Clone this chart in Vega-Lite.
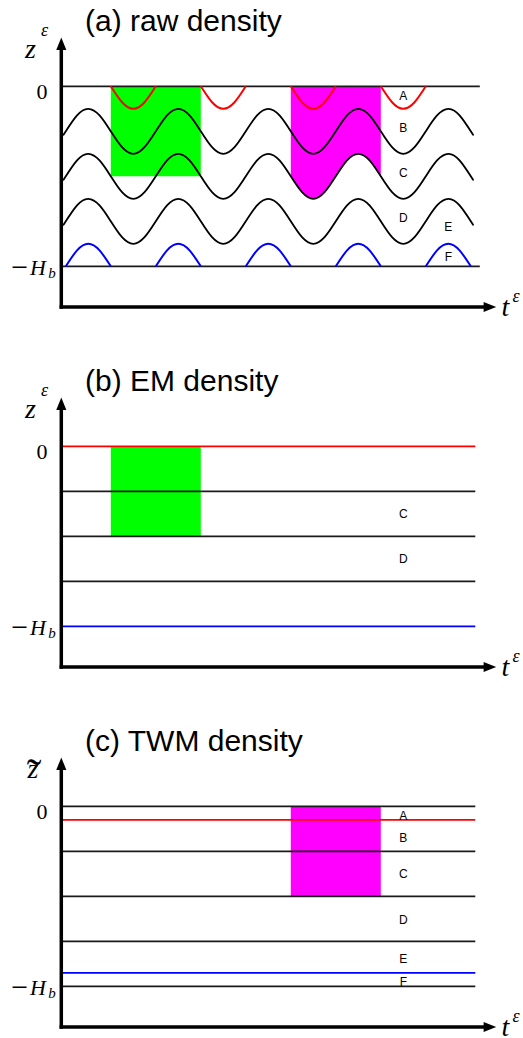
{
"$schema":"https://vega.github.io/schema/vega-lite/v6.json",
"padding":0,
"spacing":0,
"background":"white",
"config":{"view":{"stroke":null},"concat":{"spacing":0}},
"datasets":{
"rects":[
{"p":"a","k":"EM","t0":2,"t1":6,"z0":0,"z1":-2},
{"p":"b","k":"EM","t0":2,"t1":6,"z0":0,"z1":-2},
{"p":"c","k":"TWM","t0":10,"t1":14,"z0":0,"z1":-2}],
"mag":[
{"t":10,"z":-2},{"t":10.5,"z":-2.3536},{"t":11,"z":-2.5},{"t":11.5,"z":-2.3536},{"t":12,"z":-2},{"t":12.5,"z":-1.6464},{"t":13,"z":-1.5},{"t":13.5,"z":-1.6464},{"t":14,"z":-2}],
"hl":[
{"p":"a","s":"iso","t0":-0.2,"t1":18.4,"z":0},
{"p":"a","s":"iso","t0":-0.2,"t1":18.4,"z":-4},
{"p":"b","s":"A","t0":-0.2,"t1":18.2,"z":0},
{"p":"b","s":"iso","t0":-0.2,"t1":18.2,"z":-1},
{"p":"b","s":"iso","t0":-0.2,"t1":18.2,"z":-2},
{"p":"b","s":"iso","t0":-0.2,"t1":18.2,"z":-3},
{"p":"b","s":"F","t0":-0.2,"t1":18.2,"z":-4},
{"p":"c","s":"iso","t0":-0.2,"t1":18.2,"z":0},
{"p":"c","s":"A","t0":-0.2,"t1":18.2,"z":-0.3},
{"p":"c","s":"iso","t0":-0.2,"t1":18.2,"z":-1},
{"p":"c","s":"iso","t0":-0.2,"t1":18.2,"z":-2},
{"p":"c","s":"iso","t0":-0.2,"t1":18.2,"z":-3},
{"p":"c","s":"F","t0":-0.2,"t1":18.2,"z":-3.7},
{"p":"c","s":"iso","t0":-0.2,"t1":18.2,"z":-4}],
"waves":[
{"t":-0.1,"B":-1.0782,"C":-2.0782,"D":-3.0782},
{"t":0,"B":-1,"C":-2,"D":-3},
{"t":0.5,"B":-0.6464,"C":-1.6464,"D":-2.6464},
{"t":1,"B":-0.5,"C":-1.5,"D":-2.5},
{"t":1.5,"B":-0.6464,"C":-1.6464,"D":-2.6464},
{"t":2,"B":-1,"C":-2,"D":-3},
{"t":2.5,"B":-1.3536,"C":-2.3536,"D":-3.3536},
{"t":3,"B":-1.5,"C":-2.5,"D":-3.5},
{"t":3.5,"B":-1.3536,"C":-2.3536,"D":-3.3536},
{"t":4,"B":-1,"C":-2,"D":-3},
{"t":4.5,"B":-0.6464,"C":-1.6464,"D":-2.6464},
{"t":5,"B":-0.5,"C":-1.5,"D":-2.5},
{"t":5.5,"B":-0.6464,"C":-1.6464,"D":-2.6464},
{"t":6,"B":-1,"C":-2,"D":-3},
{"t":6.5,"B":-1.3536,"C":-2.3536,"D":-3.3536},
{"t":7,"B":-1.5,"C":-2.5,"D":-3.5},
{"t":7.5,"B":-1.3536,"C":-2.3536,"D":-3.3536},
{"t":8,"B":-1,"C":-2,"D":-3},
{"t":8.5,"B":-0.6464,"C":-1.6464,"D":-2.6464},
{"t":9,"B":-0.5,"C":-1.5,"D":-2.5},
{"t":9.5,"B":-0.6464,"C":-1.6464,"D":-2.6464},
{"t":10,"B":-1,"C":-2,"D":-3},
{"t":10.5,"B":-1.3536,"C":-2.3536,"D":-3.3536},
{"t":11,"B":-1.5,"C":-2.5,"D":-3.5},
{"t":11.5,"B":-1.3536,"C":-2.3536,"D":-3.3536},
{"t":12,"B":-1,"C":-2,"D":-3},
{"t":12.5,"B":-0.6464,"C":-1.6464,"D":-2.6464},
{"t":13,"B":-0.5,"C":-1.5,"D":-2.5},
{"t":13.5,"B":-0.6464,"C":-1.6464,"D":-2.6464},
{"t":14,"B":-1,"C":-2,"D":-3},
{"t":14.5,"B":-1.3536,"C":-2.3536,"D":-3.3536},
{"t":15,"B":-1.5,"C":-2.5,"D":-3.5},
{"t":15.5,"B":-1.3536,"C":-2.3536,"D":-3.3536},
{"t":16,"B":-1,"C":-2,"D":-3},
{"t":16.5,"B":-0.6464,"C":-1.6464,"D":-2.6464},
{"t":17,"B":-0.5,"C":-1.5,"D":-2.5},
{"t":17.5,"B":-0.6464,"C":-1.6464,"D":-2.6464},
{"t":18,"B":-1,"C":-2,"D":-3},
{"t":18.1,"B":-1.0782,"C":-2.0782,"D":-3.0782}],
"arcs":[
{"id":"A1","s":"A","t":2,"z":0},{"id":"A1","s":"A","t":2.5,"z":-0.3536},{"id":"A1","s":"A","t":3,"z":-0.5},{"id":"A1","s":"A","t":3.5,"z":-0.3536},{"id":"A1","s":"A","t":4,"z":0},
{"id":"A2","s":"A","t":6,"z":0},{"id":"A2","s":"A","t":6.5,"z":-0.3536},{"id":"A2","s":"A","t":7,"z":-0.5},{"id":"A2","s":"A","t":7.5,"z":-0.3536},{"id":"A2","s":"A","t":8,"z":0},
{"id":"A3","s":"A","t":10,"z":0},{"id":"A3","s":"A","t":10.5,"z":-0.3536},{"id":"A3","s":"A","t":11,"z":-0.5},{"id":"A3","s":"A","t":11.5,"z":-0.3536},{"id":"A3","s":"A","t":12,"z":0},
{"id":"A4","s":"A","t":14,"z":0},{"id":"A4","s":"A","t":14.5,"z":-0.3536},{"id":"A4","s":"A","t":15,"z":-0.5},{"id":"A4","s":"A","t":15.5,"z":-0.3536},{"id":"A4","s":"A","t":16,"z":0},
{"id":"F1","s":"F","t":0,"z":-4},{"id":"F1","s":"F","t":0.5,"z":-3.6464},{"id":"F1","s":"F","t":1,"z":-3.5},{"id":"F1","s":"F","t":1.5,"z":-3.6464},{"id":"F1","s":"F","t":2,"z":-4},
{"id":"F2","s":"F","t":4,"z":-4},{"id":"F2","s":"F","t":4.5,"z":-3.6464},{"id":"F2","s":"F","t":5,"z":-3.5},{"id":"F2","s":"F","t":5.5,"z":-3.6464},{"id":"F2","s":"F","t":6,"z":-4},
{"id":"F3","s":"F","t":8,"z":-4},{"id":"F3","s":"F","t":8.5,"z":-3.6464},{"id":"F3","s":"F","t":9,"z":-3.5},{"id":"F3","s":"F","t":9.5,"z":-3.6464},{"id":"F3","s":"F","t":10,"z":-4},
{"id":"F4","s":"F","t":12,"z":-4},{"id":"F4","s":"F","t":12.5,"z":-3.6464},{"id":"F4","s":"F","t":13,"z":-3.5},{"id":"F4","s":"F","t":13.5,"z":-3.6464},{"id":"F4","s":"F","t":14,"z":-4},
{"id":"F5","s":"F","t":16,"z":-4},{"id":"F5","s":"F","t":16.5,"z":-3.6464},{"id":"F5","s":"F","t":17,"z":-3.5},{"id":"F5","s":"F","t":17.5,"z":-3.6464},{"id":"F5","s":"F","t":18,"z":-4}],
"axes":[
{"t0":-0.2,"t1":-0.2,"z0":-4.904,"z1":0.85},
{"t0":-0.2,"t1":18.6,"z0":-4.904,"z1":-4.904}],
"heads":[
{"d":"up","t":-0.2,"z":0.946},
{"d":"right","t":18.85,"z":-4.904}],
"letters":[
{"p":"a","txt":"A","t":15,"z":-0.21},
{"p":"a","txt":"B","t":15,"z":-0.92},
{"p":"a","txt":"C","t":15,"z":-1.92},
{"p":"a","txt":"D","t":15,"z":-2.92},
{"p":"a","txt":"E","t":17,"z":-3.13},
{"p":"a","txt":"F","t":17,"z":-3.8},
{"p":"b","txt":"C","t":15,"z":-1.5},
{"p":"b","txt":"D","t":15,"z":-2.5},
{"p":"c","txt":"A","t":15,"z":-0.21},
{"p":"c","txt":"B","t":15,"z":-0.71},
{"p":"c","txt":"C","t":15,"z":-1.51},
{"p":"c","txt":"D","t":15,"z":-2.52},
{"p":"c","txt":"E","t":15,"z":-3.4},
{"p":"c","txt":"F","t":15,"z":-3.91}],
"titles":[
{"p":"a","txt":"(a) raw density","t":0.853,"z":1.229},
{"p":"b","txt":"(b) EM density","t":0.853,"z":1.229},
{"p":"c","txt":"(c) TWM density","t":0.853,"z":1.229}],
"mathI":[
{"p":"ab","txt":"z","r":"big","t":-1.813,"z":0.629},
{"p":"ab","txt":"ε","r":"sup","t":-1.1,"z":1.12},
{"p":"c","txt":"z","r":"big","t":-1.7,"z":0.629},
{"p":"all","txt":"H","r":"num","t":-1.591,"z":-4.193},
{"p":"all","txt":"b","r":"sub","t":-0.78,"z":-4.26},
{"p":"all","txt":"t","r":"big","t":19.36,"z":-5.1},
{"p":"all","txt":"ε","r":"sup","t":19.85,"z":-4.8}],
"mathR":[
{"p":"all","txt":"0","r":"num","t":-1.3,"z":-0.282},
{"p":"all","txt":"−","r":"minus","t":-2.42,"z":-4.238},
{"p":"c","txt":"˜","r":"tilde","t":-1.74,"z":0.384}]
},
"vconcat":[
{"width":523,"height":360,
"layer":[
{"data":{"name":"rects"},"transform":[{"filter":"datum.p==='a'"}],"mark":{"type":"rect"},
"encoding":{"x":{"field":"t0","type":"quantitative","scale":{"domain":[-2.9244,20.32],"nice":false,"zero":false},"axis":null},"x2":{"field":"t1"},
"y":{"field":"z0","type":"quantitative","scale":{"domain":[-6.0822,1.9178],"nice":false,"zero":false},"axis":null},"y2":{"field":"z1"},
"fill":{"field":"k","type":"nominal","scale":{"domain":["EM","TWM"],"range":["#00ff00","#ff00ff"]},"legend":null}}},
{"data":{"name":"mag"},"mark":{"type":"area","interpolate":"natural","color":"#ff00ff"},
"encoding":{"x":{"field":"t","type":"quantitative","axis":null},"y":{"field":"z","type":"quantitative","axis":null},"y2":{"datum":0}}},
{"data":{"name":"hl"},"transform":[{"filter":"datum.p==='a'"}],"mark":{"type":"rule","strokeWidth":1.8},
"encoding":{"x":{"field":"t0","type":"quantitative","axis":null},"x2":{"field":"t1"},"y":{"field":"z","type":"quantitative","axis":null},
"stroke":{"field":"s","type":"nominal","scale":{"domain":["A","F","iso"],"range":["#ff0000","#0000ff","#1a1a1a"]},"legend":null}}},
{"data":{"name":"waves"},"transform":[{"fold":["B","C","D"],"as":["id","z"]}],"mark":{"type":"line","interpolate":"natural","color":"#000000","strokeWidth":1.8},
"encoding":{"x":{"field":"t","type":"quantitative","axis":null},"y":{"field":"z","type":"quantitative","axis":null},"detail":{"field":"id","type":"nominal"}}},
{"data":{"name":"arcs"},"mark":{"type":"line","interpolate":"natural","strokeWidth":2},
"encoding":{"x":{"field":"t","type":"quantitative","axis":null},"y":{"field":"z","type":"quantitative","axis":null},"detail":{"field":"id","type":"nominal"},
"stroke":{"field":"s","type":"nominal","scale":{"domain":["A","F","iso"],"range":["#ff0000","#0000ff","#1a1a1a"]},"legend":null}}},
{"data":{"name":"axes"},"mark":{"type":"rule","color":"#000000","strokeWidth":3.5,"strokeCap":"square"},
"encoding":{"x":{"field":"t0","type":"quantitative","axis":null},"x2":{"field":"t1"},"y":{"field":"z0","type":"quantitative","axis":null},"y2":{"field":"z1"}}},
{"data":{"name":"heads"},"mark":{"type":"point","filled":true,"color":"#000000","size":160,"opacity":1,"strokeWidth":0},
"encoding":{"x":{"field":"t","type":"quantitative","axis":null},"y":{"field":"z","type":"quantitative","axis":null},
"shape":{"field":"d","type":"nominal","scale":{"domain":["up","right"],"range":["M0,-1L0.8,1L-0.8,1Z","M1,0L-1,0.8L-1,-0.8Z"]},"legend":null}}},
{"data":{"name":"letters"},"transform":[{"filter":"datum.p==='a'"}],"mark":{"type":"text","font":"Liberation Sans","fontSize":12,"align":"center","baseline":"middle","color":"#000000"},
"encoding":{"x":{"field":"t","type":"quantitative","axis":null},"y":{"field":"z","type":"quantitative","axis":null},"text":{"field":"txt"}}},
{"data":{"name":"titles"},"transform":[{"filter":"datum.p==='a'"}],"mark":{"type":"text","font":"Liberation Sans","fontSize":30,"align":"left","baseline":"alphabetic","color":"#000000"},
"encoding":{"x":{"field":"t","type":"quantitative","axis":null},"y":{"field":"z","type":"quantitative","axis":null},"text":{"field":"txt"}}},
{"data":{"name":"mathI"},"transform":[{"filter":"datum.p==='all'||datum.p==='ab'"}],"mark":{"type":"text","font":"Liberation Serif","fontStyle":"italic","align":"left","baseline":"alphabetic","color":"#000000"},
"encoding":{"x":{"field":"t","type":"quantitative","axis":null},"y":{"field":"z","type":"quantitative","axis":null},"text":{"field":"txt"},
"size":{"field":"r","type":"nominal","scale":{"type":"ordinal","domain":["big","sup","sub","num","tilde","minus"],"range":[28,18,15,22,44,30]},"legend":null}}},
{"data":{"name":"mathR"},"transform":[{"filter":"datum.p==='all'||datum.p==='ab'"}],"mark":{"type":"text","font":"Liberation Serif","align":"left","baseline":"alphabetic","color":"#000000"},
"encoding":{"x":{"field":"t","type":"quantitative","axis":null},"y":{"field":"z","type":"quantitative","axis":null},"text":{"field":"txt"},
"size":{"field":"r","type":"nominal","scale":{"type":"ordinal","domain":["big","sup","sub","num","tilde","minus"],"range":[28,18,15,22,44,30]},"legend":null}}}
]},
{"width":523,"height":360,
"layer":[
{"data":{"name":"rects"},"transform":[{"filter":"datum.p==='b'"}],"mark":{"type":"rect"},
"encoding":{"x":{"field":"t0","type":"quantitative","scale":{"domain":[-2.9244,20.32],"nice":false,"zero":false},"axis":null},"x2":{"field":"t1"},
"y":{"field":"z0","type":"quantitative","scale":{"domain":[-6.0822,1.9178],"nice":false,"zero":false},"axis":null},"y2":{"field":"z1"},
"fill":{"field":"k","type":"nominal","scale":{"domain":["EM","TWM"],"range":["#00ff00","#ff00ff"]},"legend":null}}},
{"data":{"name":"hl"},"transform":[{"filter":"datum.p==='b'"}],"mark":{"type":"rule","strokeWidth":1.8},
"encoding":{"x":{"field":"t0","type":"quantitative","axis":null},"x2":{"field":"t1"},"y":{"field":"z","type":"quantitative","axis":null},
"stroke":{"field":"s","type":"nominal","scale":{"domain":["A","F","iso"],"range":["#ff0000","#0000ff","#1a1a1a"]},"legend":null}}},
{"data":{"name":"axes"},"mark":{"type":"rule","color":"#000000","strokeWidth":3.5,"strokeCap":"square"},
"encoding":{"x":{"field":"t0","type":"quantitative","axis":null},"x2":{"field":"t1"},"y":{"field":"z0","type":"quantitative","axis":null},"y2":{"field":"z1"}}},
{"data":{"name":"heads"},"mark":{"type":"point","filled":true,"color":"#000000","size":160,"opacity":1,"strokeWidth":0},
"encoding":{"x":{"field":"t","type":"quantitative","axis":null},"y":{"field":"z","type":"quantitative","axis":null},
"shape":{"field":"d","type":"nominal","scale":{"domain":["up","right"],"range":["M0,-1L0.8,1L-0.8,1Z","M1,0L-1,0.8L-1,-0.8Z"]},"legend":null}}},
{"data":{"name":"letters"},"transform":[{"filter":"datum.p==='b'"}],"mark":{"type":"text","font":"Liberation Sans","fontSize":12,"align":"center","baseline":"middle","color":"#000000"},
"encoding":{"x":{"field":"t","type":"quantitative","axis":null},"y":{"field":"z","type":"quantitative","axis":null},"text":{"field":"txt"}}},
{"data":{"name":"titles"},"transform":[{"filter":"datum.p==='b'"}],"mark":{"type":"text","font":"Liberation Sans","fontSize":30,"align":"left","baseline":"alphabetic","color":"#000000"},
"encoding":{"x":{"field":"t","type":"quantitative","axis":null},"y":{"field":"z","type":"quantitative","axis":null},"text":{"field":"txt"}}},
{"data":{"name":"mathI"},"transform":[{"filter":"datum.p==='all'||datum.p==='ab'"}],"mark":{"type":"text","font":"Liberation Serif","fontStyle":"italic","align":"left","baseline":"alphabetic","color":"#000000"},
"encoding":{"x":{"field":"t","type":"quantitative","axis":null},"y":{"field":"z","type":"quantitative","axis":null},"text":{"field":"txt"},
"size":{"field":"r","type":"nominal","scale":{"type":"ordinal","domain":["big","sup","sub","num","tilde","minus"],"range":[28,18,15,22,44,30]},"legend":null}}},
{"data":{"name":"mathR"},"transform":[{"filter":"datum.p==='all'||datum.p==='ab'"}],"mark":{"type":"text","font":"Liberation Serif","align":"left","baseline":"alphabetic","color":"#000000"},
"encoding":{"x":{"field":"t","type":"quantitative","axis":null},"y":{"field":"z","type":"quantitative","axis":null},"text":{"field":"txt"},
"size":{"field":"r","type":"nominal","scale":{"type":"ordinal","domain":["big","sup","sub","num","tilde","minus"],"range":[28,18,15,22,44,30]},"legend":null}}}
]},
{"width":523,"height":318,
"layer":[
{"data":{"name":"rects"},"transform":[{"filter":"datum.p==='c'"}],"mark":{"type":"rect"},
"encoding":{"x":{"field":"t0","type":"quantitative","scale":{"domain":[-2.9244,20.32],"nice":false,"zero":false},"axis":null},"x2":{"field":"t1"},
"y":{"field":"z0","type":"quantitative","scale":{"domain":[-5.1489,1.9178],"nice":false,"zero":false},"axis":null},"y2":{"field":"z1"},
"fill":{"field":"k","type":"nominal","scale":{"domain":["EM","TWM"],"range":["#00ff00","#ff00ff"]},"legend":null}}},
{"data":{"name":"hl"},"transform":[{"filter":"datum.p==='c'"}],"mark":{"type":"rule","strokeWidth":1.8},
"encoding":{"x":{"field":"t0","type":"quantitative","axis":null},"x2":{"field":"t1"},"y":{"field":"z","type":"quantitative","axis":null},
"stroke":{"field":"s","type":"nominal","scale":{"domain":["A","F","iso"],"range":["#ff0000","#0000ff","#1a1a1a"]},"legend":null}}},
{"data":{"name":"axes"},"mark":{"type":"rule","color":"#000000","strokeWidth":3.5,"strokeCap":"square"},
"encoding":{"x":{"field":"t0","type":"quantitative","axis":null},"x2":{"field":"t1"},"y":{"field":"z0","type":"quantitative","axis":null},"y2":{"field":"z1"}}},
{"data":{"name":"heads"},"mark":{"type":"point","filled":true,"color":"#000000","size":160,"opacity":1,"strokeWidth":0},
"encoding":{"x":{"field":"t","type":"quantitative","axis":null},"y":{"field":"z","type":"quantitative","axis":null},
"shape":{"field":"d","type":"nominal","scale":{"domain":["up","right"],"range":["M0,-1L0.8,1L-0.8,1Z","M1,0L-1,0.8L-1,-0.8Z"]},"legend":null}}},
{"data":{"name":"letters"},"transform":[{"filter":"datum.p==='c'"}],"mark":{"type":"text","font":"Liberation Sans","fontSize":12,"align":"center","baseline":"middle","color":"#000000"},
"encoding":{"x":{"field":"t","type":"quantitative","axis":null},"y":{"field":"z","type":"quantitative","axis":null},"text":{"field":"txt"}}},
{"data":{"name":"titles"},"transform":[{"filter":"datum.p==='c'"}],"mark":{"type":"text","font":"Liberation Sans","fontSize":30,"align":"left","baseline":"alphabetic","color":"#000000"},
"encoding":{"x":{"field":"t","type":"quantitative","axis":null},"y":{"field":"z","type":"quantitative","axis":null},"text":{"field":"txt"}}},
{"data":{"name":"mathI"},"transform":[{"filter":"datum.p==='all'||datum.p==='c'"}],"mark":{"type":"text","font":"Liberation Serif","fontStyle":"italic","align":"left","baseline":"alphabetic","color":"#000000"},
"encoding":{"x":{"field":"t","type":"quantitative","axis":null},"y":{"field":"z","type":"quantitative","axis":null},"text":{"field":"txt"},
"size":{"field":"r","type":"nominal","scale":{"type":"ordinal","domain":["big","sup","sub","num","tilde","minus"],"range":[28,18,15,22,44,30]},"legend":null}}},
{"data":{"name":"mathR"},"transform":[{"filter":"datum.p==='all'||datum.p==='c'"}],"mark":{"type":"text","font":"Liberation Serif","align":"left","baseline":"alphabetic","color":"#000000"},
"encoding":{"x":{"field":"t","type":"quantitative","axis":null},"y":{"field":"z","type":"quantitative","axis":null},"text":{"field":"txt"},
"size":{"field":"r","type":"nominal","scale":{"type":"ordinal","domain":["big","sup","sub","num","tilde","minus"],"range":[28,18,15,22,44,30]},"legend":null}}}
]}
]
}
